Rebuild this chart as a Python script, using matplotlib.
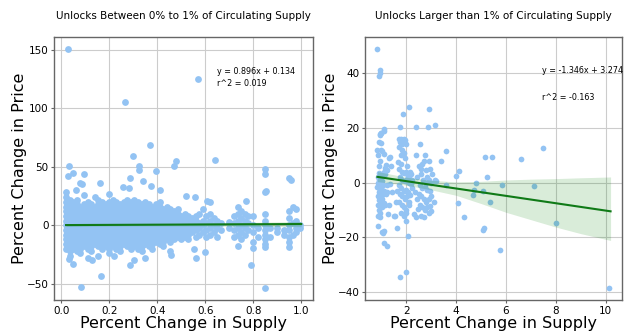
import numpy as np
import matplotlib
matplotlib.use("Agg")
import matplotlib.pyplot as plt

################################################################################
# Data
################################################################################

# --- left panel: unlocks between 0% and 1% -------------------------------
# dense cloud, one column of y values per x position
small_cols_x = [0.020, 0.035, 0.050, 0.065, 0.080, 0.095, 0.110, 0.125, 0.140, 0.155,
                0.170, 0.185, 0.200, 0.215, 0.230, 0.245, 0.260, 0.275, 0.290, 0.305,
                0.320, 0.335, 0.350, 0.365, 0.380, 0.395, 0.410, 0.425, 0.440, 0.455,
                0.470, 0.485, 0.500, 0.515, 0.530, 0.545, 0.560, 0.575, 0.590, 0.605,
                0.620, 0.635, 0.650, 0.665, 0.700, 0.720, 0.735, 0.750, 0.765, 0.780,
                0.800, 0.820, 0.850, 0.870, 0.900, 0.930, 0.950, 0.965, 0.980, 0.995]
small_cols_y = [
    [-20, -16, -12, -8, -4, 0, 4, 8, 12, 16, 20, 24, 28],
    [-26, -22, -18, -14, -10, -6, -2, 2, 6, 10, 14, 18, 22],
    [-20, -16, -12, -8, -4, 0, 4, 8, 12, 16, 20],
    [-22, -18, -14, -10, -6, -2, 2, 6, 10, 14, 18, 22],
    [-24, -20, -16, -12, -8, -4, 0, 4, 8, 12, 16],
    [-18, -14, -10, -6, -2, 2, 6, 10, 14, 18, 26],
    [-28, -20, -16, -12, -8, -4, 0, 4, 8, 12, 16, 20],
    [-22, -18, -14, -10, -6, -2, 2, 6, 10, 14, 18],
    [-16, -12, -8, -4, 0, 4, 8, 12, 16, 24],
    [-26, -18, -14, -10, -6, -2, 2, 6, 10, 14, 18, 22],
    [-20, -16, -12, -8, -4, 0, 4, 8, 12, 16, 20],
    [-18, -14, -10, -6, -2, 2, 6, 10, 14, 18],
    [-24, -20, -16, -12, -8, -4, 0, 4, 8, 12, 16, 20],
    [-18, -14, -10, -6, -2, 2, 6, 10, 14, 18, 22],
    [-20, -16, -12, -8, -4, 0, 4, 8, 12, 16, 20],
    [-22, -18, -14, -10, -6, -2, 2, 6, 10, 14, 18],
    [-16, -12, -8, -4, 0, 4, 8, 12, 16, 20],
    [-18, -14, -10, -6, -2, 2, 6, 10, 14, 18, 22],
    [-20, -16, -12, -8, -4, 0, 4, 8, 12, 16, 20],
    [-18, -14, -10, -6, -2, 2, 6, 10, 14, 18, 22],
    [-20, -16, -12, -8, -4, 0, 4, 8, 12, 16, 20],
    [-22, -18, -14, -10, -6, -2, 2, 6, 10, 14, 18],
    [-16, -12, -8, -4, 0, 4, 8, 12, 16, 20],
    [-18, -14, -10, -6, -2, 2, 6, 10, 14, 18],
    [-20, -16, -12, -8, -4, 0, 4, 8, 12, 16],
    [-14, -10, -6, -2, 2, 6, 10, 14, 18],
    [-16, -12, -8, -4, 0, 4, 8, 12, 16, 20],
    [-18, -14, -10, -6, -2, 2, 6, 10, 14],
    [-12, -8, -4, 0, 4, 8, 12, 16],
    [-22, -14, -10, -6, -2, 2, 6, 10, 14],
    [-12, -8, -4, 0, 4, 8, 12],
    [-10, -6, -2, 2, 6, 10, 14],
    [-12, -8, -4, 0, 4, 8],
    [-10, -6, -2, 2, 6, 10],
    [-12, -8, -4, 0, 4, 8],
    [-6, -2, 2, 6],
    [-10, -4, 0, 4, 8],
    [-8, -2, 2, 10],
    [-6, 0, 4, 14],
    [-10, -4, 2, 8],
    [-8, -2, 4, 10],
    [-6, 0, 6],
    [-10, -2, 4],
    [-4, 2],
    [-2, 3],
    [-10, -4, 2, 8],
    [-8, -2, 4, 10, 16],
    [-12, -6, 0, 6, 12],
    [-8, -2, 4, 10],
    [-4, 2, 8],
    [-14, -6, 0, 8],
    [-10, -2],
    [-16, -12, -8, -4, 0, 4, 10],
    [-10, -2],
    [-6, -2],
    [-8, -4],
    [-14, -10, -4, 0, 6, 12],
    [-8, 2, 16],
    [-6, -2, 4, 14],
    [-2, 0],
]
# isolated points away from the cloud
small_out_x = [0.03, 0.267, 0.568, 0.37, 0.30, 0.64, 0.48, 0.47, 0.032, 0.324, 0.326, 0.394,
               0.051, 0.028, 0.093, 0.85, 0.85, 0.951, 0.958, 0.078, 0.085, 0.16, 0.339, 0.288,
               0.372, 0.257, 0.282, 0.20, 0.847, 0.854, 0.768, 0.607, 0.618, 0.52, 0.557,
               0.032, 0.051, 0.083, 0.167, 0.288, 0.303, 0.561, 0.60, 0.553, 0.79, 0.85, 0.85,
               0.735, 0.951, 0.456, 0.80, 0.13, 0.22, 0.41, 0.06, 0.35]
small_out_y = [151, 105.5, 125, 69, 59, 56, 55, 51, 50.6, 51, 47, 46.6,
               45, 42, 43.5, 48, 43.5, 40, 38.6, 36.4, 35, 36.4, 37.8, 40,
               33.5, 32.4, 31.5, 26.7, 28, 29.5, 20.7, 21, 20, 25, 24.4,
               -29, -32.7, -53, -43, -33.8, -29.5, -28.4, -23, -20.5, -33.8, -53.7, -18.8,
               -17.9, -18.2, -25.6, -19.6, -30, -26, 30, 30, -28]
small_fit = (0.896, 0.134)
small_fit_x = [0.02, 1.0]
small_band_x = [0.02, 0.3, 0.6, 1.0]
small_band_lo = [-0.9, -0.6, -0.6, -1.2]
small_band_hi = [1.2, 0.9, 1.8, 3.2]

# --- right panel: unlocks larger than 1% ----------------------------------
large_x = [
    # cluster near 1%
    0.85, 0.9, 0.95, 1.0, 0.98, 1.05, 0.88, 0.95, 1.1, 1.2, 1.15, 1.3, 0.9, 0.95, 1.0, 0.86,
    0.92, 1.05, 0.88, 0.97, 1.08, 0.85, 0.93, 1.02, 1.12, 0.9, 0.98, 1.2, 0.87, 0.95, 1.05,
    1.25, 0.9, 1.0, 1.1, 0.86, 0.94, 1.15, 1.3, 1.03, 0.9, 0.97, 0.88, 0.95, 1.05, 1.22, 1.35,
    1.45, 1.4, 1.25, 1.1, 0.92, 1.0, 1.15, 1.5, 1.35, 1.28,
    # cluster near 2%
    1.7, 1.75, 1.8, 1.85, 1.9, 1.95, 2.0, 1.72, 1.82, 1.9, 1.78, 1.95, 2.05, 1.7, 1.8, 1.85,
    1.93, 2.0, 2.05, 2.1, 2.15, 2.2, 1.75, 1.85, 1.95, 2.02, 2.1, 2.18, 1.7, 1.8, 1.9, 2.0,
    2.08, 1.75, 1.85, 1.95, 2.05, 2.15, 1.72, 1.82, 1.92, 2.0, 2.1, 1.78, 1.9, 2.0, 1.65, 1.6,
    2.25, 2.3, 2.22, 1.68, 1.55, 2.12, 1.98,
    # cluster near 2.7%
    2.55, 2.7, 2.75, 2.65, 2.6, 2.5, 2.45, 2.4, 2.8, 2.9, 2.95, 2.85, 2.92, 3.0, 2.55, 2.65,
    2.75, 2.85, 2.95, 2.5, 2.6, 2.7, 2.8, 2.9, 3.0, 2.55, 2.65, 2.75, 2.85, 2.95, 2.6, 2.7,
    2.9, 3.0, 2.45, 2.35, 2.4, 3.05, 3.1, 3.2, 2.8, 2.68, 2.58, 3.15, 2.48,
    # scattered points
    0.82, 0.95, 0.95, 0.93, 2.1, 2.9, 1.88, 3.16, 1.75, 2.4, 2.86, 1.1, 1.1, 0.95, 1.0,
    7.5, 3.6, 6.6, 5.15, 5.43, 3.4, 4.13, 4.02, 5.25, 4.8, 5.85, 7.13, 3.6, 4.72, 4.68, 5.08,
    4.08, 5.37, 4.31, 8.0, 5.07, 5.12, 5.76, 1.75, 1.99, 2.09, 1.11, 1.02, 1.06, 1.11, 1.22,
    0.88, 10.15, 1.63,
]
large_y = [
    12, 15, 17.5, 18, 14.5, 11.5, 10, 8, 10.5, 6.5, 5.5, 9, 3.5, 3, 2.5, 2,
    1, 0.5, 0, -0.5, -1, -1.5, -2, -2.5, -3, -3.5, -4, -4, -5, -5.5, -6,
    -3.5, -6.5, -7, -7.5, -8, -8.5, -8, -8, -9, -10, -11, -12, -12.5, -4.5, -1, -0.5,
    -3.5, 6, 4.5, 4, 6, 12, 3, -12, 9.5, -11.5,
    16, 15, 16, 14, 16, 15.5, 14, 13, 12, 11, 10, 9, 6, 5, 7, 4,
    3.5, 4, 3, 2.5, 4, 3, 2, 1, 0.5, 1.5, 0, -0.5, -1, -2, -3, -2.5,
    -3.5, -4, -5, -6, -5, -4.5, -7, -8, -9, -10, -8, -11, -12, -14, -3, -7,
    -2, -11.5, 1, 7.5, -12, -7, -11,
    14, 8, 10, 7, 5, 6, 2, 10, 4.5, 8, 5, 2, 1, 0, -1, -2,
    -1.5, -2.5, -3, -4, -5, -6, -7, -6, -5, -8, -9, -10, -9, -8.5, -12, -12.5,
    -11, -10.5, -6, -3.5, -12.5, 3, -7, 0.5, 0, 1, 3, 1, -9.5,
    49, 41, 40, 39, 27.5, 27, 25, 21, 20.3, 20.3, 20.2, 19.5, 19, 17.7, 18,
    12.5, 11.5, 8.5, 9.5, 9.4, 8, 4.3, 2.4, 2.1, 0, -1, -1.1, -0.8, -2.6, -4.6, -3.1,
    -7.5, -7.1, -12.7, -14.8, -17.2, -16.5, -24.7, -34.3, -32.8, -19.4, -17.5, -18.1, -18.5, -21.9, -23.3,
    -16, -38.5, -16.4,
]
large_fit = (-1.346, 3.274)
large_fit_x = [0.85, 10.2]
large_band_x = [0.85, 2, 3, 4, 5, 6, 7, 8, 9, 10.2]
large_band_lo = [0.4, -0.9, -2.6, -4.6, -7.6, -10.8, -13.5, -16.2, -18.6, -21.1]
large_band_hi = [4.1, 2.0, 0.9, 0.3, 0.5, 1.0, 1.3, 1.5, 1.8, 2.1]

################################################################################
# Plot
################################################################################
point_color = '#93c3f3'
line_color = '#137a1c'


def style_axes(ax):
    ax.grid(True, color='#cccccc', linewidth=0.8)
    ax.set_axisbelow(True)
    for sp in ax.spines.values():
        sp.set_color('#666666')
        sp.set_linewidth(1.0)
    ax.tick_params(labelsize=7.5, length=2, pad=2, color='#666666')


def draw_panel(ax, xs, ys, size, fit, fit_x, band_x, band_lo, band_hi, title):
    ax.scatter(xs, ys, s=size, color=point_color, linewidths=0, zorder=2)
    fx = np.array(fit_x)
    ax.plot(fx, fit[0] * fx + fit[1], color=line_color, linewidth=1.5, zorder=3)
    ax.fill_between(band_x, band_lo, band_hi, color='green', alpha=0.15, linewidth=0, zorder=3)
    ax.set_title(title, fontsize=7.5, pad=13)
    ax.set_xlabel('Percent Change in Supply', fontsize=11.5, labelpad=0)
    ax.set_ylabel('Percent Change in Price', fontsize=11.5, labelpad=0)
    style_axes(ax)


fig = plt.figure(figsize=(6.41, 3.36), dpi=100)
ax1 = fig.add_axes([0.0847, 0.107, 0.4036, 0.784])
ax2 = fig.add_axes([0.5694, 0.107, 0.4014, 0.784])

# flatten the left cloud columns
left_x = [x for x, col in zip(small_cols_x, small_cols_y) for _ in col] + small_out_x
left_y = [y for col in small_cols_y for y in col] + small_out_y

draw_panel(ax1, left_x, left_y, 24, small_fit, small_fit_x, small_band_x, small_band_lo,
           small_band_hi, 'Unlocks Between 0% to 1% of Circulating Supply')
ax1.set_xticks([0.0, 0.2, 0.4, 0.6, 0.8, 1.0])
ax1.set_yticks([-50, 0, 50, 100, 150])
ax1.text(0.651, 131, 'y = 0.896x + 0.134', fontsize=5.8, va='center')
ax1.text(0.651, 121.3, 'r^2 = 0.019', fontsize=5.8, va='center')

draw_panel(ax2, large_x, large_y, 17, large_fit, large_fit_x, large_band_x, large_band_lo,
           large_band_hi, 'Unlocks Larger than 1% of Circulating Supply')
ax2.set_xticks([2, 4, 6, 8, 10])
ax2.set_yticks([-40, -20, 0, 20, 40])
ax2.text(7.46, 41, 'y = -1.346x + 3.274', fontsize=5.8, va='center')
ax2.text(7.46, 31.1, 'r^2 = -0.163', fontsize=5.8, va='center')

fig.savefig('out.png', dpi=100)
